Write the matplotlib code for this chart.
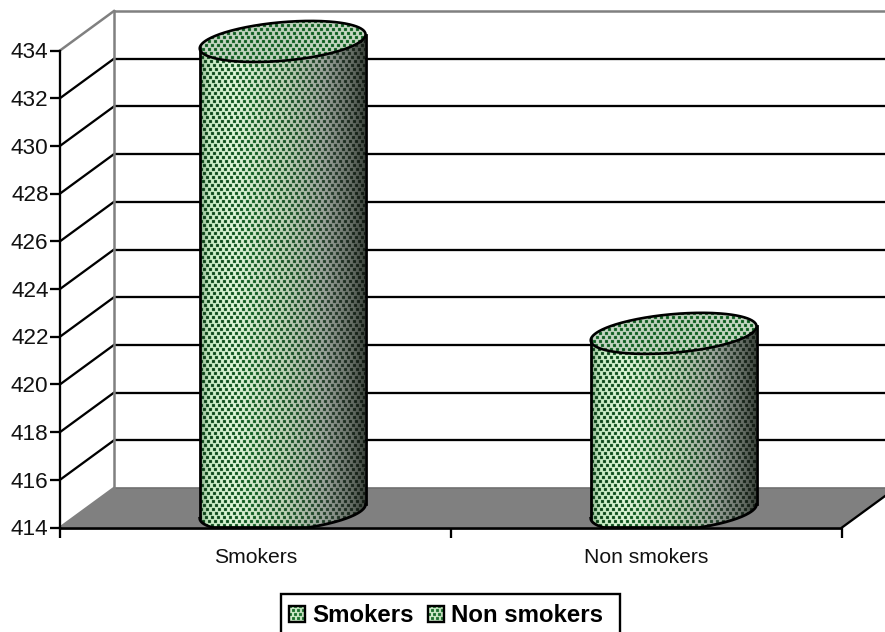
import numpy as np
import matplotlib
matplotlib.use("Agg")
import matplotlib.pyplot as plt
from matplotlib.patches import PathPatch, Polygon, Rectangle
from matplotlib.path import Path

plt.rcParams["font.family"] = ["Liberation Sans", "DejaVu Sans"]

categories = ["Smokers", "Non smokers"]
values = [433.7, 421.46]
y_ticks = [414, 416, 418, 420, 422, 424, 426, 428, 430, 432, 434]

# Chart frame in pixels
W, H = 885, 632
LEFT, RIGHT, TOP, BOTTOM = 60, 842, 50.5, 527.5
DEPTH_X, DEPTH_Y = 54, 39.5     # pixel shift from the front plane to the back wall
Y_MIN, Y_MAX = y_ticks[0], y_ticks[-1]

fig = plt.figure(figsize=(W / 100, H / 100), dpi=100, facecolor="white")
ax = fig.add_axes([LEFT / W, 1 - BOTTOM / H, (RIGHT - LEFT) / W, (BOTTOM - TOP) / H])
ax.set_xlim(0, len(categories))
ax.set_ylim(Y_MIN, Y_MAX)
ax.axis("off")

PX_X = (RIGHT - LEFT) / len(categories)
PX_Y = (BOTTOM - TOP) / (Y_MAX - Y_MIN)
DX = DEPTH_X / PX_X
DY = DEPTH_Y / PX_Y


def project(x, v, depth=0.0):
    """Oblique projection: depth 0 is the front plane, depth 1 the back wall."""
    return x + depth * DX, v + depth * DY


BLACK_LW = 1.65
GREY_LW = 1.8
GREY = "#808080"
x_end = len(categories)

# Floor
ax.add_patch(Polygon([project(0, Y_MIN), project(x_end, Y_MIN),
                      project(x_end, Y_MIN, 1), project(0, Y_MIN, 1)],
                     closed=True, fc=GREY, ec="none", zorder=1, clip_on=False))
bx, by = project(0, Y_MIN, 1)
bx2, _ = project(x_end, Y_MIN, 1)
ax.plot([bx, bx2], [by, by], color="#707070", lw=1.2, zorder=1.5, clip_on=False)

# Back wall gridlines and their diagonals on the side wall
for t in y_ticks:
    x0, y0 = project(0, t)
    x1, y1 = project(0, t, 1)
    x2, y2 = project(x_end, t, 1)
    inner = t not in (Y_MIN, Y_MAX)
    col = "black" if inner else GREY
    ax.plot([x0, x1], [y0, y1], color=col, lw=BLACK_LW if inner else GREY_LW, zorder=2,
            clip_on=False)
    if t != Y_MIN:
        ax.plot([x1, x2], [y1, y2], color=col, lw=BLACK_LW if inner else GREY_LW, zorder=2,
                clip_on=False, solid_capstyle="butt")
wx, wy0 = project(0, Y_MIN, 1)
_, wy1 = project(0, Y_MAX, 1)
ax.plot([wx, wx], [wy0, wy1], color=GREY, lw=GREY_LW, zorder=2, clip_on=False)

# Right edge of the floor
ax.plot(*zip(project(x_end, Y_MIN), project(x_end, Y_MIN, 1)), color="black",
        lw=BLACK_LW, zorder=3, clip_on=False)


def soften(img):
    """Very light smoothing so the stipple edges are not hard."""
    out = img.copy()
    k = np.array([0.08, 0.84, 0.08])
    for axis in (0, 1):
        out = (np.roll(out, 1, axis) * k[0] + out * k[1] + np.roll(out, -1, axis) * k[2])
    return out


def stipple(w, h, shade, dot_shade, period=6, row=4):
    """RGB array of staggered dots over a horizontal shading."""
    xx, yy = np.meshgrid(np.arange(w), np.arange(h))
    r = yy // row
    shifted = (xx + (r % 2) * period // 2 + r // 4) % period
    dots = (shifted < 3) & (yy % row < 3)
    u = xx / max(w - 1, 1)
    img = shade(u)
    dimg = dot_shade(u)
    img[dots] = dimg[dots]
    return soften(img)


def ramp(stops):
    pos = np.array([s[0] for s in stops])
    rgb = np.array([matplotlib.colors.to_rgb(s[1]) for s in stops])

    def f(u):
        return np.stack([np.interp(u, pos, rgb[:, i]) for i in range(3)], axis=-1)
    return f


body_bg = ramp([(0, "#8fb58f"), (0.05, "#c8ecc4"), (0.2, "#e0f8da"), (0.5, "#c0d4b8"),
                (0.75, "#9ca49c"), (0.92, "#666e66"), (1, "#3c443c")])
body_dot = ramp([(0, "#083c14"), (0.3, "#0e5c20"), (0.6, "#1a4e26"), (0.8, "#243a2a"),
                 (1, "#101810")])
top_bg = ramp([(0, "#c8d8c6"), (0.5, "#c0d2bd"), (1, "#cadac6")])
top_dot = ramp([(0, "#0e5c20"), (1, "#0a5c1c")])

RADIUS_X = 78 / PX_X           # cylinder radius along the front plane
RADIUS_D = 0.52                # cylinder radius along the depth axis
CENTRE_D = 0.41
CENTRE_SHIFT = 5 / PX_X

t = np.linspace(0, 2 * np.pi, 361)
t_extreme = np.arctan2(RADIUS_D * DEPTH_X, RADIUS_X * PX_X)


def rim(cx, v, angles):
    return project(cx + RADIUS_X * np.cos(angles), v, CENTRE_D + RADIUS_D * np.sin(angles))


for i, val in enumerate(values):
    cx = i + 0.5 + CENTRE_SHIFT
    # front half of each rim runs from the right extreme, clockwise, to the left one
    front = np.linspace(t_extreme, t_extreme - np.pi, 181)
    tx, ty = rim(cx, val, front)
    bx_, by_ = rim(cx, Y_MIN, front[::-1])
    by_ = np.maximum(by_, Y_MIN)     # the base stops at the front axis
    body_xy = np.vstack([np.column_stack([tx, ty]), np.column_stack([bx_, by_]),
                         [[tx[0], ty[0]]]])
    ex, ey = rim(cx, val, t)
    x_lo, x_hi = body_xy[:, 0].min(), body_xy[:, 0].max()
    y_lo, y_hi = by_.min(), ey.max()
    w_px = int(round((x_hi - x_lo) * PX_X))
    h_px = int(round((y_hi - y_lo) * PX_Y))
    extent = (x_lo, x_hi, y_lo, y_hi)

    body_patch = PathPatch(Path(body_xy), transform=ax.transData, fc="none", ec="none")
    ax.add_patch(body_patch)
    im = ax.imshow(stipple(w_px, h_px, body_bg, body_dot), extent=extent, aspect="auto",
                   interpolation="nearest", origin="upper", zorder=4)
    im.set_clip_box(fig.bbox)
    im.set_clip_path(body_patch)

    top_patch = PathPatch(Path(np.column_stack([ex, ey])), transform=ax.transData,
                          fc="none", ec="none")
    ax.add_patch(top_patch)
    im2 = ax.imshow(stipple(w_px, h_px, top_bg, top_dot), extent=extent, aspect="auto",
                    interpolation="nearest", origin="upper", zorder=5)
    im2.set_clip_box(fig.bbox)
    im2.set_clip_path(top_patch)

    ax.plot(ex, ey, color="black", lw=1.9, zorder=6, clip_on=False)
    ax.plot(bx_, by_, color="black", lw=2.0, zorder=4.5, clip_on=False)
    ax.plot([tx[0], bx_[-1]], [ty[0], by_[-1]], color="black", lw=2.0, zorder=6, clip_on=False)
    ax.plot([tx[-1], bx_[0]], [ty[-1], by_[0]], color="black", lw=2.0, zorder=6, clip_on=False)

ax.set_xlim(0, len(categories))
ax.set_ylim(Y_MIN, Y_MAX)

# Front axes, ticks and labels
ax.plot([0, x_end], [Y_MIN, Y_MIN], color="black", lw=BLACK_LW + 0.3, zorder=7, clip_on=False,
        solid_capstyle="butt")
ax.plot([0, 0], [Y_MIN, Y_MAX], color="black", lw=BLACK_LW, zorder=7, clip_on=False)
TICK_Y = 10 / PX_Y
TICK_X = 10 / PX_X
for tv in y_ticks:
    ax.plot([-TICK_X, 0], [tv, tv], color="black", lw=BLACK_LW, zorder=7, clip_on=False,
            solid_capstyle="butt")
    ax.text(-TICK_X - 1.5 / PX_X, tv - 2.3 / PX_Y, str(tv), ha="right", va="center", fontsize=16.2,
            color="#111111", zorder=7, clip_on=False)
for k in range(len(categories) + 1):
    ax.plot([k, k], [Y_MIN, Y_MIN - TICK_Y], color="black", lw=BLACK_LW, zorder=7,
            clip_on=False, solid_capstyle="butt")
for k, name in enumerate(categories):
    ax.text(k + 0.5, Y_MIN - 30 / PX_Y, name, ha="center", va="center", fontsize=15.2,
            color="#111111", clip_on=False)


# Legend, laid out on a full-figure overlay in pixel units
lg = fig.add_axes([0, 0, 1, 1], facecolor="none")
lg.axis("off")
lg.add_patch(Rectangle((281, 593.5), 338.5, 45, fc="white", ec="black", lw=1.7))
legend_layout = [(289, 313), (428, 452)]
swatch_bg = ramp([(0, "#e0f8da"), (1, "#c8e4c2")])
swatch_dot = ramp([(0, "#1a6e2c"), (1, "#1a6e2c")])
for (mx, tx_), name in zip(legend_layout, categories):
    lg.imshow(stipple(16, 16, swatch_bg, swatch_dot, period=5, row=4),
              extent=(mx, mx + 16, 621.5, 605.5), aspect="auto",
              interpolation="nearest", zorder=3)
    lg.add_patch(Rectangle((mx, 605.5), 16, 16, fc="none", ec="black", lw=1.7, zorder=4))
    lg.text(tx_ - 1, 622, name, ha="left", va="baseline", fontsize=17.3, fontweight="bold",
            color="black")
lg.set_xlim(0, W)
lg.set_ylim(H, 0)

fig.savefig("out.png", dpi=100, facecolor="white")
